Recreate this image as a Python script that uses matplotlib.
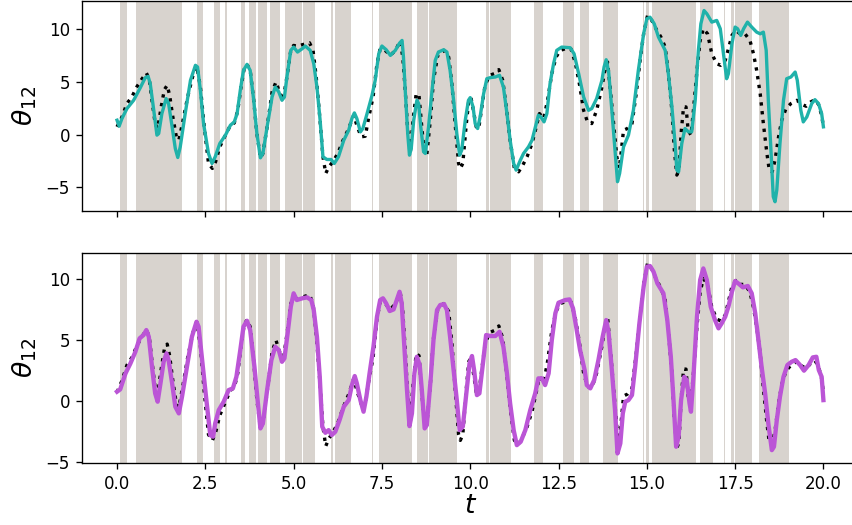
import numpy as np
import matplotlib
matplotlib.use("Agg")
import matplotlib.pyplot as plt

# shaded intervals (start, end) in t
span_start = [0.09, 0.55, 2.27, 2.75, 3.07, 3.52, 3.73, 4.00, 4.34, 4.76, 5.26, 6.07, 6.18,
              7.22, 7.42, 8.50, 8.84, 10.45, 10.57, 11.81, 12.22, 12.64, 13.11, 13.76,
              14.90, 14.97, 15.15, 16.51, 17.19, 17.39, 17.50, 18.18]
span_end = [0.28, 1.84, 2.43, 2.92, 3.12, 3.61, 3.94, 4.26, 4.62, 5.24, 5.61, 6.12, 6.62,
            7.24, 8.35, 8.80, 9.62, 10.52, 11.15, 12.06, 12.24, 12.94, 13.35, 14.18,
            14.93, 15.07, 16.40, 16.87, 17.22, 17.47, 17.97, 19.03]

# true signal (black dotted)
t_true = [0.00, 0.14, 0.28, 0.42, 0.57, 0.71, 0.83, 0.91, 0.99, 1.08, 1.15, 1.25, 1.34, 1.42,
          1.49, 1.58, 1.68, 1.75, 1.87, 2.00, 2.15, 2.26, 2.36, 2.47, 2.59, 2.70, 2.79, 2.91,
          3.07, 3.21, 3.32, 3.42, 3.51, 3.60, 3.68, 3.77, 3.87, 3.96, 4.06, 4.13, 4.25, 4.39,
          4.50, 4.59, 4.70, 4.81, 4.92, 5.00, 5.11, 5.24, 5.45, 5.55, 5.64, 5.74, 5.83, 5.91,
          6.00, 6.11, 6.25, 6.40, 6.56, 6.70, 6.79, 6.91, 7.03, 7.12, 7.25, 7.36, 7.45, 7.59,
          7.74, 7.88, 8.02, 8.09, 8.16, 8.23, 8.30, 8.38, 8.47, 8.55, 8.62, 8.70, 8.77, 8.87,
          8.96, 9.08, 9.25, 9.39, 9.48, 9.58, 9.67, 9.72, 9.79, 9.89, 9.96, 10.02, 10.09,
          10.17, 10.24, 10.33, 10.42, 10.55, 10.68, 10.81, 10.92, 11.02, 11.13, 11.25, 11.37,
          11.49, 11.61, 11.75, 11.87, 11.96, 12.08, 12.19, 12.31, 12.43, 12.55, 12.69, 12.85,
          12.97, 13.09, 13.21, 13.32, 13.44, 13.58, 13.73, 13.82, 13.89, 13.96, 14.06, 14.15,
          14.22, 14.28, 14.34, 14.45, 14.58, 14.70, 14.81, 14.91, 15.02, 15.14, 15.26, 15.40,
          15.52, 15.61, 15.71, 15.78, 15.85, 15.91, 15.97, 16.04, 16.11, 16.17, 16.25, 16.32,
          16.42, 16.51, 16.60, 16.72, 16.84, 16.98, 17.09, 17.22, 17.31, 17.41, 17.52, 17.64,
          17.78, 17.92, 18.02, 18.11, 18.21, 18.30, 18.40, 18.47, 18.55, 18.63, 18.73, 18.82,
          18.94, 19.08, 19.25, 19.39, 19.51, 19.64, 19.76, 19.86, 19.95, 20.00]
theta_true = [0.73, 1.67, 2.94, 3.57, 4.58, 5.30, 5.84, 5.30, 3.25, 1.04, 0.57, 2.62, 4.26, 4.67,
              3.72, 1.67, -0.22, -0.54, 1.36, 3.57, 5.62, 6.47, 4.51, 0.73, -2.75, -3.22, -2.59,
              -1.17, -0.06, 0.88, 1.10, 2.30, 4.51, 6.25, 6.66, 6.09, 3.25, 0.09, -2.21, -1.80,
              0.73, 4.04, 4.99, 4.14, 3.25, 5.46, 7.99, 8.46, 8.37, 8.52, 8.71, 7.99, 5.46, 1.67,
              -2.11, -3.69, -3.06, -2.59, -1.80, -0.54, 0.57, 1.83, 0.88, -0.22, -0.16, 1.52,
              3.57, 6.72, 8.14, 7.99, 7.51, 7.99, 8.87, 7.35, 4.20, 0.41, -1.86, 1.36, 3.88,
              3.72, 1.04, -1.80, -1.96, 1.36, 5.15, 7.51, 7.99, 7.35, 4.83, 0.73, -2.75, -3.22,
              -2.75, 1.04, 3.25, 3.50, 2.30, 0.73, 0.57, 2.62, 4.67, 5.62, 5.78, 6.16, 5.15,
              2.62, -0.54, -3.22, -3.54, -2.90, -2.11, -0.85, 0.73, 1.99, 1.52, 3.25, 5.78,
              7.35, 7.99, 8.14, 8.14, 6.88, 4.83, 2.30, 1.20, 1.04, 2.30, 4.51, 6.25, 6.88,
              4.51, 1.04, -2.11, -3.22, -1.48, 0.41, 0.57, 1.04, 3.88, 7.04, 9.56, 11.30, 10.83,
              10.04, 9.25, 8.30, 5.78, 2.30, -1.48, -3.85, -3.38, 0.09, 2.62, 2.62, 0.41, -0.06,
              2.30, 6.09, 8.93, 10.04, 9.56, 7.67, 6.72, 6.57, 7.04, 8.14, 9.41, 9.88, 9.56,
              9.56, 8.93, 7.67, 6.09, 3.88, 1.04, -1.80, -3.44, -3.54, -2.43, -0.22, 1.36, 2.46,
              2.94, 3.25, 2.87, 2.68, 3.09, 3.31, 2.87, 1.83, 0.73]

# first model prediction (teal, top panel)
t_pred_a = [0.00, 0.06, 0.14, 0.28, 0.47, 0.66, 0.80, 0.88, 0.94, 1.04, 1.13, 1.18, 1.27, 1.39,
            1.46, 1.56, 1.65, 1.72, 1.79, 1.93, 2.08, 2.22, 2.28, 2.36, 2.45, 2.59, 2.69, 2.78,
            2.91, 3.07, 3.21, 3.32, 3.40, 3.49, 3.58, 3.68, 3.77, 3.87, 3.96, 4.06, 4.13, 4.25,
            4.39, 4.48, 4.58, 4.67, 4.74, 4.81, 4.92, 5.00, 5.11, 5.24, 5.33, 5.47, 5.57, 5.66,
            5.75, 5.83, 5.94, 6.06, 6.15, 6.27, 6.42, 6.56, 6.65, 6.72, 6.79, 6.89, 6.96, 7.08,
            7.22, 7.31, 7.41, 7.50, 7.62, 7.74, 7.88, 8.00, 8.07, 8.11, 8.16, 8.23, 8.28, 8.33,
            8.40, 8.49, 8.54, 8.60, 8.68, 8.73, 8.82, 8.92, 9.01, 9.10, 9.25, 9.34, 9.43, 9.53,
            9.62, 9.70, 9.76, 9.86, 9.95, 10.00, 10.08, 10.14, 10.21, 10.28, 10.38, 10.47,
            10.57, 10.71, 10.83, 10.94, 11.04, 11.13, 11.23, 11.30, 11.42, 11.51, 11.65, 11.75,
            11.87, 11.93, 12.00, 12.09, 12.17, 12.26, 12.36, 12.45, 12.59, 12.83, 12.94, 13.07,
            13.21, 13.35, 13.44, 13.58, 13.73, 13.79, 13.85, 13.92, 14.01, 14.10, 14.17, 14.23,
            14.34, 14.48, 14.62, 14.76, 14.91, 15.00, 15.09, 15.21, 15.33, 15.52, 15.61, 15.71,
            15.80, 15.85, 15.90, 15.99, 16.08, 16.18, 16.27, 16.37, 16.46, 16.53, 16.62, 16.70,
            16.84, 16.98, 17.08, 17.17, 17.26, 17.31, 17.41, 17.50, 17.57, 17.66, 17.74, 17.85,
            17.97, 18.11, 18.21, 18.30, 18.38, 18.44, 18.51, 18.58, 18.63, 18.68, 18.77, 18.87,
            18.96, 19.08, 19.20, 19.26, 19.36, 19.43, 19.53, 19.67, 19.76, 19.86, 19.95, 20.00]
theta_pred_a = [1.36, 0.79, 1.52, 2.46, 3.25, 4.45, 5.40, 5.52, 4.83, 2.30, -0.06, 0.09, 1.99,
                3.41, 2.94, 0.73, -1.33, -2.18, -1.17, 1.99, 5.15, 6.57, 6.41, 4.20, 1.04,
                -1.80, -2.75, -2.11, -0.85, -0.06, 0.88, 1.20, 1.99, 4.20, 6.09, 6.66, 6.09,
                3.25, 0.09, -2.21, -1.80, 0.73, 3.57, 4.51, 4.04, 3.25, 3.57, 5.46, 7.99, 8.30,
                7.83, 8.14, 8.40, 7.99, 6.72, 4.51, 1.36, -2.11, -2.37, -2.37, -2.75, -2.11,
                -0.54, 0.41, 1.52, 2.05, 1.52, 0.25, 0.57, 1.99, 3.72, 5.15, 7.67, 8.40, 8.05,
                7.51, 7.99, 8.68, 8.93, 7.35, 4.20, 0.09, -1.96, -1.33, 1.36, 3.25, 2.94, 0.73,
                -1.64, -1.80, 0.73, 4.20, 7.04, 7.83, 8.05, 7.83, 6.09, 3.25, 0.09, -1.96,
                -1.48, 1.36, 3.25, 3.50, 2.62, 1.04, 0.57, 1.67, 3.88, 5.30, 5.40, 5.46, 5.62,
                4.51, 1.99, -0.54, -2.75, -3.38, -2.43, -1.80, -1.17, -0.54, 1.04, 1.83, 1.67,
                1.20, 1.99, 4.83, 6.72, 7.99, 8.30, 8.24, 7.67, 5.78, 3.57, 2.30, 2.46, 3.41,
                5.15, 6.41, 7.10, 5.93, 2.30, -1.48, -4.48, -3.69, -1.17, -0.06, 2.30, 6.09,
                9.56, 10.98, 11.14, 10.51, 9.25, 7.99, 5.78, 2.62, -0.85, -3.38, -3.54, -0.85,
                0.57, 0.25, 0.25, 3.25, 7.99, 10.51, 11.77, 11.46, 10.67, 10.83, 10.04, 7.67,
                5.30, 5.78, 8.62, 10.20, 10.04, 9.41, 10.04, 10.67, 10.20, 9.72, 9.56, 9.72,
                7.99, 3.25, -1.17, -5.90, -6.38, -5.27, -0.85, 3.25, 5.30, 5.46, 5.93, 5.15,
                2.30, 1.20, 1.67, 2.94, 3.31, 2.94, 1.99, 0.73]

# second model prediction (purple, bottom panel)
t_pred_b = [0.00, 0.09, 0.24, 0.38, 0.52, 0.64, 0.75, 0.83, 0.90, 0.99, 1.08, 1.15, 1.23, 1.32,
            1.40, 1.46, 1.56, 1.65, 1.75, 1.84, 1.98, 2.12, 2.25, 2.31, 2.41, 2.53, 2.64, 2.72,
            2.78, 2.88, 3.02, 3.16, 3.28, 3.38, 3.49, 3.58, 3.68, 3.77, 3.89, 3.98, 4.06, 4.13,
            4.25, 4.37, 4.48, 4.58, 4.67, 4.74, 4.83, 4.92, 5.00, 5.09, 5.24, 5.38, 5.50, 5.57,
            5.66, 5.74, 5.81, 5.90, 5.99, 6.08, 6.18, 6.30, 6.42, 6.56, 6.65, 6.73, 6.79, 6.89,
            6.98, 7.06, 7.15, 7.26, 7.36, 7.45, 7.53, 7.62, 7.72, 7.83, 7.92, 8.00, 8.06, 8.13,
            8.21, 8.28, 8.35, 8.42, 8.49, 8.57, 8.63, 8.71, 8.77, 8.87, 8.96, 9.06, 9.15, 9.26,
            9.34, 9.43, 9.53, 9.62, 9.70, 9.79, 9.89, 9.98, 10.05, 10.11, 10.19, 10.26, 10.36,
            10.45, 10.57, 10.71, 10.83, 10.94, 11.04, 11.13, 11.23, 11.32, 11.43, 11.56, 11.70,
            11.84, 11.93, 12.03, 12.12, 12.22, 12.31, 12.41, 12.50, 12.69, 12.81, 12.91, 13.00,
            13.11, 13.24, 13.30, 13.40, 13.51, 13.63, 13.75, 13.85, 13.92, 14.01, 14.10, 14.17,
            14.25, 14.32, 14.39, 14.48, 14.58, 14.67, 14.79, 14.91, 15.00, 15.09, 15.19, 15.30,
            15.47, 15.58, 15.68, 15.75, 15.83, 15.90, 15.97, 16.06, 16.13, 16.21, 16.25, 16.32,
            16.42, 16.51, 16.60, 16.70, 16.81, 16.93, 17.03, 17.12, 17.22, 17.31, 17.41, 17.50,
            17.59, 17.72, 17.86, 17.97, 18.07, 18.16, 18.25, 18.35, 18.44, 18.54, 18.60, 18.68,
            18.77, 18.87, 18.98, 19.10, 19.21, 19.34, 19.45, 19.58, 19.70, 19.80, 19.87, 19.95,
            20.00]
theta_pred_b = [0.77, 0.96, 2.27, 3.09, 4.04, 5.14, 5.41, 5.82, 5.27, 2.81, 0.63, -0.05, 1.45,
                3.22, 3.91, 3.36, 1.45, -0.46, -1.01, 0.36, 2.81, 5.27, 6.50, 6.09, 3.36, 0.08,
                -2.79, -2.92, -1.83, -0.74, -0.05, 0.90, 1.04, 1.99, 4.18, 6.09, 6.58, 5.82,
                2.81, 0.08, -2.24, -1.83, 0.90, 3.36, 4.45, 4.18, 3.22, 3.50, 5.55, 7.73, 8.83,
                8.28, 8.42, 8.50, 8.28, 7.46, 5.27, 1.99, -2.10, -2.60, -2.38, -2.79, -2.51,
                -1.56, -0.46, 0.08, 1.31, 2.05, 1.45, 0.08, -0.87, 0.36, 2.27, 4.45, 6.91, 8.28,
                8.42, 8.01, 7.38, 7.51, 8.28, 8.96, 8.01, 4.73, 0.90, -2.05, -1.01, 2.27, 3.63,
                2.95, 0.90, -2.24, -1.97, 1.45, 5.00, 7.46, 7.87, 7.95, 7.46, 5.27, 2.54, 0.08,
                -2.38, -2.10, 0.63, 3.09, 3.69, 2.54, 0.49, 0.63, 3.09, 5.41, 5.33, 5.33, 5.68,
                4.45, 2.27, -0.19, -2.38, -3.61, -3.33, -2.38, -0.74, 0.63, 1.86, 1.86, 1.31,
                2.27, 5.00, 7.19, 8.06, 8.28, 8.33, 7.60, 6.09, 4.18, 2.54, 1.31, 1.04, 1.72,
                3.36, 5.27, 6.64, 5.55, 2.54, -0.74, -4.29, -3.47, -1.01, -0.05, 0.08, 0.49,
                2.81, 6.37, 9.37, 11.01, 11.07, 10.60, 9.64, 8.83, 6.64, 3.63, 0.36, -3.74,
                -2.92, 0.08, 1.99, 1.72, -0.19, -0.87, 1.99, 6.91, 9.92, 10.87, 9.92, 7.73, 6.64,
                5.96, 6.37, 6.91, 7.73, 8.96, 9.84, 9.64, 9.32, 9.43, 8.83, 7.19, 5.00, 2.81,
                0.63, -1.83, -4.02, -3.74, -1.56, 0.36, 1.99, 2.95, 3.22, 3.36, 2.95, 2.49, 2.95,
                3.58, 3.63, 2.54, 1.99, 0.08]

xticks = [0, 2.5, 5, 7.5, 10, 12.5, 15, 17.5, 20]
yticks = [-5, 0, 5, 10]

span_color = "#d8d3ce"

fig = plt.figure(figsize=(7.1, 4.375), dpi=120)
ax1 = fig.add_axes([0.0959, 0.5987, 0.912, 0.4003])
ax2 = fig.add_axes([0.0959, 0.1175, 0.912, 0.4012])

for ax in (ax1, ax2):
    for a, b in zip(span_start, span_end):
        ax.axvspan(a, b, color=span_color, lw=0, zorder=0)
    ax.plot(t_true, theta_true, ":", color="black", lw=2, zorder=2)
    ax.set_xlim(-1, 21)
    ax.set_xticks(xticks)
    ax.set_yticks(yticks)
    ax.set_ylabel(r"$\theta_{12}$", fontsize=16)

ax1.plot(t_pred_a, theta_pred_a, color="#20b2aa", lw=2, zorder=3)
ax2.plot(t_pred_b, theta_pred_b, color="#bb55d6", lw=2.6, zorder=3)

ax1.set_ylim(-7.23, 12.72)
ax2.set_ylim(-5.1, 12.16)
ax1.tick_params(labelbottom=False)
ax2.set_xlabel(r"$t$", fontsize=16, labelpad=0)

fig.savefig("out.png", dpi=120)
